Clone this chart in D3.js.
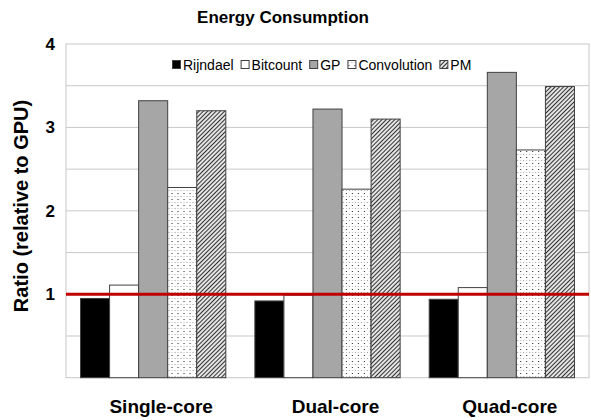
<!DOCTYPE html>
<html>
<head>
<meta charset="utf-8">
<script src="https://cdn.jsdelivr.net/npm/d3@7"></script>
<style>
  html, body { margin: 0; padding: 0; background: #fff; }
  svg { display: block; font-family: Arial, "Liberation Sans", sans-serif; }
</style>
</head>
<body>
<svg id="chart" width="591" height="420"></svg>
<script>
// Energy ratio of each benchmark relative to the GPU, per CPU configuration
const categories = ["Single-core", "Dual-core", "Quad-core"];
const seriesNames = ["Rijndael", "Bitcount", "GP", "Convolution", "PM"];
const rijndael    = [0.95, 0.92, 0.94];
const bitcount    = [1.11, 0.99, 1.08];
const gp          = [3.32, 3.22, 3.66];
const convolution = [2.28, 2.26, 2.73];
const pm          = [3.20, 3.10, 3.49];
const yTicks = [1, 2, 3, 4];
const baseline = 1;

const seriesValues = [rijndael, bitcount, gp, convolution, pm];

const W = 591, H = 420;
const margin = { top: 44, right: 2, bottom: 42.3, left: 66 };
const FONT = "Arial, 'Liberation Sans', sans-serif";
const svg = d3.select("#chart");

// Fill patterns for the textured series
const defs = svg.append("defs");
const dots = defs.append("pattern")
  .attr("id", "pat-dots").attr("patternUnits", "userSpaceOnUse")
  .attr("width", 6).attr("height", 6);
dots.append("rect").attr("width", 6).attr("height", 6).attr("fill", "#fff");
dots.append("rect").attr("x", 1).attr("y", 1).attr("width", 1).attr("height", 1).attr("fill", "#222");
dots.append("rect").attr("x", 4).attr("y", 4).attr("width", 1).attr("height", 1).attr("fill", "#999");
dots.append("rect").attr("x", 1).attr("y", 4).attr("width", 1).attr("height", 1).attr("fill", "#bbb");

const hatch = defs.append("pattern")
  .attr("id", "pat-hatch").attr("patternUnits", "userSpaceOnUse")
  .attr("width", 3).attr("height", 3)
  .attr("patternTransform", "rotate(45)");
hatch.append("rect").attr("width", 3).attr("height", 3).attr("fill", "#e4e4e4");
hatch.append("rect").attr("width", 1).attr("height", 3).attr("fill", "#333");

const fills = ["#000000", "#ffffff", "#a6a6a6", "url(#pat-dots)", "url(#pat-hatch)"];

const x0 = d3.scaleBand()
  .domain(categories)
  .range([margin.left, W - margin.right])
  .paddingInner(1 / 6)
  .paddingOuter(1 / 12);
const x1 = d3.scaleBand()
  .domain(seriesNames)
  .range([0, x0.bandwidth()]);
const y = d3.scaleLinear()
  .domain([0, 4])
  .range([H - margin.bottom, margin.top]);

// Gridlines every half unit
const grid = d3.range(0.5, 4, 0.5);
svg.append("g").selectAll("line").data(grid).join("line")
  .attr("x1", margin.left).attr("x2", W - margin.right)
  .attr("y1", d => y(d)).attr("y2", d => y(d))
  .attr("stroke", "#c8c8c8").attr("stroke-width", 1);

// Plot frame
svg.append("rect")
  .attr("x", margin.left).attr("y", y(4))
  .attr("width", W - margin.right - margin.left)
  .attr("height", y(0) - y(4))
  .attr("fill", "none").attr("stroke", "#c8c8c8").attr("stroke-width", 1);

// Bars
const rows = categories.map((c, i) => ({
  cat: c,
  vals: seriesNames.map((s, j) => ({ name: s, idx: j, value: seriesValues[j][i] }))
}));
svg.append("g").selectAll("g").data(rows).join("g")
  .attr("transform", d => `translate(${x0(d.cat)},0)`)
  .selectAll("rect").data(d => d.vals).join("rect")
  .attr("x", d => x1(d.name))
  .attr("y", d => y(d.value))
  .attr("width", x1.bandwidth())
  .attr("height", d => y(0) - y(d.value))
  .attr("fill", d => fills[d.idx])
  .attr("stroke", "#404040").attr("stroke-width", 1);

// Reference line at ratio 1
svg.append("line")
  .attr("x1", margin.left).attr("x2", W - margin.right)
  .attr("y1", y(baseline)).attr("y2", y(baseline))
  .attr("stroke", "#c00000").attr("stroke-width", 3);

// Y axis labels
const yAxis = d3.axisLeft(y).tickValues(yTicks).tickFormat(d3.format("d")).tickSize(0).tickPadding(11);
const ya = svg.append("g").attr("transform", `translate(${margin.left},0)`).call(yAxis);
ya.select(".domain").remove();
ya.selectAll("text")
  .attr("font-size", 17).attr("font-weight", "bold").attr("fill", "#000")
  .attr("font-family", FONT);

// X axis category labels
const xAxis = d3.axisBottom(x0).tickSize(0).tickPadding(21);
const xa = svg.append("g").attr("transform", `translate(0,${y(0)})`).call(xAxis);
xa.select(".domain").remove();
xa.selectAll("text")
  .attr("font-size", 19).attr("font-weight", "bold").attr("fill", "#000")
  .attr("font-family", FONT)
  .attr("dy", null).attr("y", 35).attr("dx", 8);

// Title
svg.append("text")
  .attr("x", 283).attr("y", 23)
  .attr("text-anchor", "middle")
  .attr("font-size", 17).attr("font-weight", "bold")
  .text("Energy Consumption");

// Y axis title
svg.append("text")
  .attr("transform", `translate(28,206) rotate(-90)`)
  .attr("text-anchor", "middle")
  .attr("font-size", 20).attr("font-weight", "bold")
  .text("Ratio (relative to GPU)");

// Legend
const legend = svg.append("g").attr("transform", "translate(172,70)");
let lx = 0;
seriesNames.forEach((name, i) => {
  const item = legend.append("g").attr("transform", `translate(${lx},0)`);
  item.append("rect")
    .attr("x", 0.5).attr("y", -9.5).attr("width", 8).attr("height", 8)
    .attr("fill", fills[i]).attr("stroke", "#404040").attr("stroke-width", 1);
  const t = item.append("text")
    .attr("x", 11).attr("y", 0)
    .attr("font-size", 14)
    .text(name);
  lx += 11 + t.node().getComputedTextLength() + 7;
});
</script>
</body>
</html>
